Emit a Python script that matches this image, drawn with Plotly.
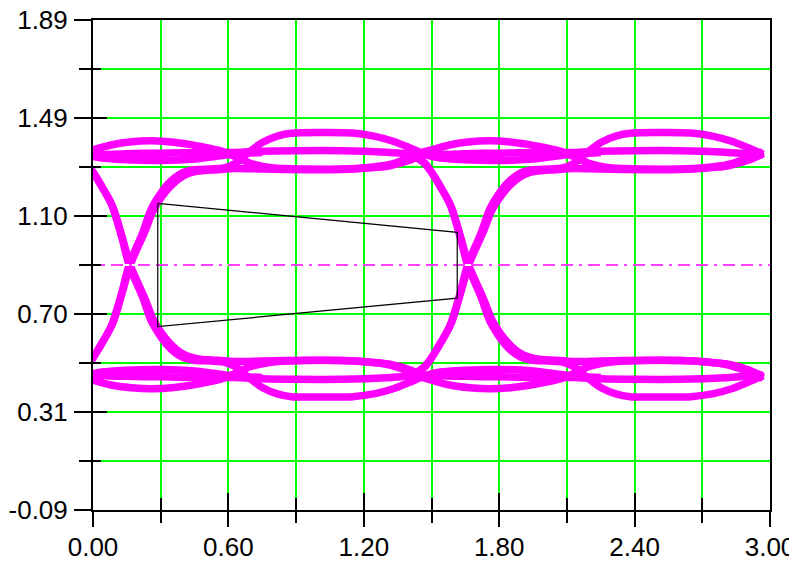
import plotly.graph_objects as go

# ---------------- axis ticks ----------------
x_major = [0.0, 0.6, 1.2, 1.8, 2.4, 3.0]
x_major_text = ["0.00", "0.60", "1.20", "1.80", "2.40", "3.00"]
x_minor = [0.3, 0.9, 1.5, 2.1, 2.7]
y_major = [-0.09, 0.306, 0.702, 1.098, 1.494, 1.89]
y_major_text = ["-0.09", "0.31", "0.70", "1.10", "1.49", "1.89"]
y_minor = [0.108, 0.504, 0.90, 1.296, 1.692]

# ---------------- eye traces (one unit interval, folded) ----------------
unit_interval = 1.5
fold_offsets = [-1.5, 0.0, 1.5]
x_end = 2.97

# high rail, ringing strand
hi_ring_x = [0.00, 0.08, 0.17, 0.26, 0.36, 0.47, 0.57, 0.63, 0.70, 0.80, 0.95, 1.10, 1.22, 1.31, 1.38, 1.43, 1.47, 1.50]
hi_ring_y = [1.365, 1.385, 1.398, 1.402, 1.396, 1.38, 1.36, 1.338, 1.31, 1.292, 1.288, 1.288, 1.294, 1.305, 1.325, 1.342, 1.358, 1.365]
# high rail, steady strand
hi_mid_x = [0.00, 0.15, 0.30, 0.50, 0.63, 0.75, 0.90, 1.10, 1.30, 1.43, 1.47, 1.50]
hi_mid_y = [1.345, 1.35, 1.352, 1.355, 1.355, 1.36, 1.362, 1.362, 1.356, 1.347, 1.346, 1.345]
# rising edge with big overshoot
rise_a_x = [-0.09, -0.03, 0.00, 0.04, 0.08, 0.125, 0.16, 0.22, 0.26, 0.33, 0.39, 0.44, 0.52, 0.58, 0.63, 0.69, 0.75, 0.82, 0.88, 1.00, 1.15, 1.25, 1.33, 1.40, 1.47, 1.52, 1.65, 1.80, 1.95, 2.10, 2.25]
rise_a_y = [0.455, 0.488, 0.525, 0.585, 0.65, 0.78, 0.90, 1.03, 1.13, 1.225, 1.27, 1.284, 1.288, 1.292, 1.31, 1.355, 1.395, 1.422, 1.432, 1.435, 1.433, 1.42, 1.40, 1.375, 1.348, 1.335, 1.325, 1.322, 1.328, 1.345, 1.355]
# rising edge settling low
rise_b_x = [-0.08, -0.03, 0.00, 0.05, 0.09, 0.13, 0.165, 0.23, 0.27, 0.34, 0.40, 0.46, 0.55, 0.63, 0.75, 0.95, 1.10, 1.22, 1.31, 1.40, 1.47]
rise_b_y = [0.455, 0.49, 0.525, 0.6, 0.67, 0.79, 0.90, 1.035, 1.125, 1.215, 1.26, 1.278, 1.285, 1.29, 1.288, 1.285, 1.286, 1.292, 1.30, 1.322, 1.35]

# low rail, ringing strand
lo_ring_x = [0.00, 0.08, 0.17, 0.26, 0.36, 0.47, 0.57, 0.63, 0.70, 0.80, 0.95, 1.10, 1.22, 1.31, 1.38, 1.43, 1.47, 1.50]
lo_ring_y = [0.435, 0.415, 0.404, 0.40, 0.405, 0.42, 0.44, 0.462, 0.49, 0.508, 0.514, 0.514, 0.508, 0.497, 0.477, 0.46, 0.442, 0.435]
# low rail, steady strand
lo_mid_x = [0.00, 0.15, 0.30, 0.50, 0.63, 0.75, 0.90, 1.10, 1.30, 1.43, 1.47, 1.50]
lo_mid_y = [0.455, 0.45, 0.448, 0.445, 0.445, 0.44, 0.438, 0.438, 0.444, 0.453, 0.454, 0.455]
# falling edge with deep undershoot
fall_a_x = [-0.09, -0.03, 0.00, 0.04, 0.08, 0.125, 0.16, 0.22, 0.26, 0.33, 0.39, 0.44, 0.52, 0.58, 0.63, 0.69, 0.75, 0.82, 0.88, 1.00, 1.15, 1.25, 1.33, 1.40, 1.47, 1.52, 1.65, 1.80, 1.95, 2.10, 2.25]
fall_a_y = [1.345, 1.312, 1.275, 1.215, 1.15, 1.02, 0.90, 0.77, 0.67, 0.575, 0.53, 0.516, 0.512, 0.508, 0.49, 0.445, 0.405, 0.378, 0.368, 0.367, 0.368, 0.38, 0.40, 0.425, 0.452, 0.465, 0.475, 0.478, 0.472, 0.455, 0.445]
# falling edge settling high
fall_b_x = [-0.08, -0.03, 0.00, 0.05, 0.09, 0.13, 0.165, 0.23, 0.27, 0.34, 0.40, 0.46, 0.55, 0.63, 0.75, 0.95, 1.10, 1.22, 1.31, 1.40, 1.47]
fall_b_y = [1.345, 1.31, 1.275, 1.2, 1.13, 1.01, 0.90, 0.765, 0.675, 0.585, 0.54, 0.522, 0.515, 0.51, 0.512, 0.515, 0.514, 0.508, 0.50, 0.478, 0.45]

strands = [
    (hi_ring_x, hi_ring_y), (hi_mid_x, hi_mid_y), (rise_a_x, rise_a_y), (rise_b_x, rise_b_y),
    (lo_ring_x, lo_ring_y), (lo_mid_x, lo_mid_y), (fall_a_x, fall_a_y), (fall_b_x, fall_b_y),
]

# ---------------- eye mask and threshold ----------------
mask_x = [0.287, 1.614, 1.614, 0.287, 0.287]
mask_y = [1.149, 1.032, 0.766, 0.651, 1.149]
threshold_x = [0.0, 3.0]
threshold_y = [0.90, 0.90]

MAGENTA = "#FF00FF"
GREEN = "#00FF00"

fig = go.Figure()

for sx, sy in strands:
    for off in fold_offsets:
        xs, ys = [], []
        for a, b in zip(sx, sy):
            xa = a + off
            if xa <= x_end + 1e-6:
                xs.append(xa)
                ys.append(b)
        if len(xs) > 1:
            fig.add_trace(go.Scatter(x=xs, y=ys, mode="lines",
                                     line=dict(color=MAGENTA, width=7.5, shape="spline", smoothing=0.8),
                                     hoverinfo="skip", showlegend=False))

fig.add_trace(go.Scatter(x=threshold_x, y=threshold_y, mode="lines",
                         line=dict(color="white", width=2), hoverinfo="skip", showlegend=False))
fig.add_trace(go.Scatter(x=threshold_x, y=threshold_y, mode="lines",
                         line=dict(color=MAGENTA, width=1.5, dash="12px,6px,12px,6px,3px,6px"),
                         hoverinfo="skip", showlegend=False))
fig.add_trace(go.Scatter(x=mask_x, y=mask_y, mode="lines",
                         line=dict(color="black", width=1.2), hoverinfo="skip", showlegend=False))
# carrier for inner-tick axes
fig.add_trace(go.Scatter(x=[], y=[], xaxis="x2", yaxis="y2", mode="lines", showlegend=False, hoverinfo="skip"))

FONT = dict(family="Liberation Sans, Arial, sans-serif", size=26, color="black")

fig.update_layout(
    width=797, height=562,
    margin=dict(l=85, r=35, t=12, b=60, autoexpand=False),
    paper_bgcolor="white", plot_bgcolor="white",
    showlegend=False,
    font=FONT,
    xaxis=dict(range=[0, 3], tickmode="array", tickvals=x_major, ticktext=x_major_text,
               ticks="outside", ticklen=15, tickwidth=1.5, tickcolor="black", automargin=False,
               showgrid=True, gridcolor=GREEN, gridwidth=1.6, zeroline=False,
               showline=True, linecolor="black", linewidth=2, mirror=True,
               tickfont=FONT, ticklabelstandoff=-2, ticklabeloverflow="allow",
               minor=dict(tickmode="array", tickvals=x_minor, ticks="outside", ticklen=11,
                          tickwidth=1.5, tickcolor="black", showgrid=True, gridcolor=GREEN, gridwidth=1.6)),
    yaxis=dict(range=[-0.09, 1.89], tickmode="array", tickvals=y_major, ticktext=y_major_text,
               ticks="outside", ticklen=17, tickwidth=1.5, tickcolor="black", automargin=False,
               showgrid=True, gridcolor=GREEN, gridwidth=1.6, zeroline=False,
               showline=True, linecolor="black", linewidth=2, mirror=True,
               tickfont=FONT, ticklabelstandoff=1, ticklabeloverflow="allow",
               minor=dict(tickmode="array", tickvals=y_minor, ticks="outside", ticklen=12,
                          tickwidth=1.5, tickcolor="black", showgrid=True, gridcolor=GREEN, gridwidth=1.6)),
    xaxis2=dict(overlaying="x", matches="x", range=[0, 3], side="bottom", anchor="y2", automargin=False,
                tickmode="array", tickvals=x_major, ticks="inside", ticklen=17, tickwidth=1.5,
                tickcolor="black", showticklabels=False, showgrid=False, zeroline=False, showline=False,
                minor=dict(tickmode="array", tickvals=x_minor, ticks="inside", ticklen=12,
                           tickwidth=1.5, tickcolor="black", showgrid=False)),
    yaxis2=dict(overlaying="y", matches="y", range=[-0.09, 1.89], side="left", anchor="x2", automargin=False,
                tickmode="array", tickvals=y_major, ticks="inside", ticklen=14, tickwidth=1.5,
                tickcolor="black", showticklabels=False, showgrid=False, zeroline=False, showline=False,
                minor=dict(tickmode="array", tickvals=y_minor, ticks="inside", ticklen=8,
                           tickwidth=1.5, tickcolor="black", showgrid=False)),
)

fig.write_html("out.html")
